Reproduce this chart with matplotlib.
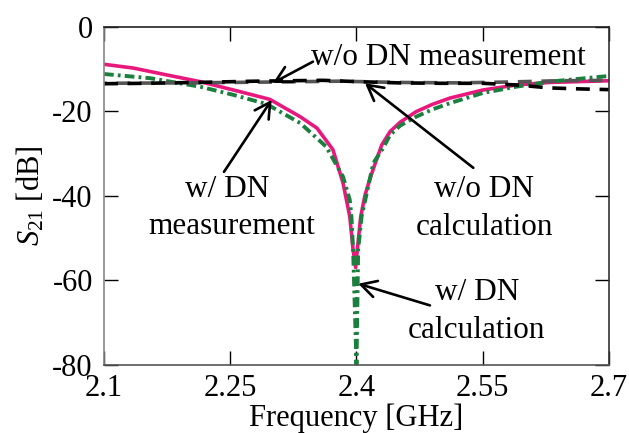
import numpy as np
import matplotlib
matplotlib.use("Agg")
import matplotlib.pyplot as plt

plt.rcParams['font.family'] = ['Liberation Serif', 'DejaVu Serif']
plt.rcParams['mathtext.fontset'] = 'custom'
plt.rcParams['mathtext.rm'] = 'Liberation Serif'
plt.rcParams['mathtext.it'] = 'Liberation Serif:italic'
plt.rcParams['axes.unicode_minus'] = False
plt.rcParams['lines.scale_dashes'] = False

# w/ DN measurement
f_meas_dn = [2.100, 2.135, 2.174, 2.214, 2.262, 2.297, 2.333, 2.353, 2.372, 2.384,
             2.392, 2.396, 2.399, 2.401, 2.405, 2.410, 2.416, 2.422, 2.430, 2.440,
             2.452, 2.471, 2.490, 2.511, 2.550, 2.590, 2.629, 2.665, 2.700]
s21_meas_dn = [-8.9, -9.8, -11.4, -13.0, -15.4, -17.2, -21.3, -24.0, -29.1, -37.0,
               -44.9, -52.8, -57.0, -52.8, -45.0, -40.0, -36.0, -32.5, -28.0, -24.8,
               -22.6, -20.1, -18.4, -16.9, -15.0, -13.8, -13.2, -13.0, -12.8]

# w/ DN calculation
f_calc_dn = [2.100, 2.155, 2.214, 2.253, 2.293, 2.333, 2.364, 2.384, 2.392, 2.394,
             2.396, 2.400, 2.402, 2.406, 2.420, 2.432, 2.440, 2.452, 2.471, 2.490,
             2.511, 2.550, 2.590, 2.630, 2.693, 2.700]
s21_calc_dn = [-11.2, -12.2, -14.2, -16.1, -18.3, -22.8, -28.4, -35.5, -41.0, -45.0,
               -52.8, -80.0, -52.8, -45.0, -32.3, -28.6, -25.6, -23.4, -21.3, -19.6,
               -18.1, -15.7, -14.2, -13.0, -11.8, -11.7]

# w/o DN measurement
f_meas = [2.10, 2.15, 2.21, 2.28, 2.36, 2.40, 2.45, 2.50, 2.55, 2.59, 2.63, 2.66, 2.70]
s21_meas = [-13.5, -13.4, -13.2, -12.9, -12.7, -13.0, -13.3, -13.4, -13.4, -13.8,
            -14.5, -14.7, -14.9]

# w/o DN calculation
f_calc = [2.10, 2.20, 2.30, 2.38, 2.45, 2.52, 2.58, 2.64, 2.70]
s21_calc = [-13.4, -13.3, -13.1, -12.9, -13.2, -13.3, -13.1, -12.8, -12.7]

xticks = [2.1, 2.25, 2.4, 2.55, 2.7]
xtick_labels = ['2.1', '2.25', '2.4', '2.55', '2.7']
yticks = [0, -20, -40, -60, -80]

fig = plt.figure(figsize=(6.29, 4.33), dpi=100)
ax = fig.add_axes([0.1653, 0.1578, 0.8029, 0.7806])

ax.plot(f_meas_dn, s21_meas_dn, color='#e8197d', lw=2.6, solid_joinstyle='round')
ax.plot(f_calc_dn, s21_calc_dn, color='#1b7f3d', lw=2.8,
        dashes=(7, 3, 2, 3))
ax.plot(f_calc, s21_calc, color='#555555', lw=2.6, linestyle=(8, (10, 7)))
ax.plot(f_meas, s21_meas, color='black', lw=2.6, linestyle=(0, (10, 7)))

ax.set_xlim(2.1, 2.7)
ax.set_ylim(-80, 0)
ax.set_xticks(xticks)
ax.set_xticklabels(xtick_labels)
ax.set_yticks(yticks)
ax.tick_params(direction='in', length=10, width=1.0, labelsize=22,
               top=True, right=True, pad=7)
ax.tick_params(axis='y', pad=8)

for side, c in [('left', '#888888'), ('bottom', '#555555'),
                ('top', '#222222'), ('right', '#333333')]:
    ax.spines[side].set_color(c)
    ax.spines[side].set_linewidth(1.2)

ax.set_xlabel('Frequency [GHz]', fontsize=22, labelpad=0)
ax.set_ylabel(r'$S_{21}$ [dB]', fontsize=22, labelpad=4)

# labels
txt = dict(fontsize=22.5, ha='center', va='baseline')
ax.text(2.509, -9.06, 'w/o DN measurement', **txt)
ax.text(2.552, -40.27, 'w/o DN', **txt)
ax.text(2.552, -49.26, 'calculation', **txt)
ax.text(2.543, -64.63, 'w/ DN', **txt)
ax.text(2.543, -73.61, 'calculation', **txt)
ax.text(2.246, -40.27, 'w/ DN', **txt)
ax.text(2.252, -49.02, 'measurement', **txt)

arrow = dict(arrowstyle='->,head_length=0.55,head_width=0.3', color='black',
             lw=1.9, shrinkA=0, shrinkB=0, mutation_scale=20)
ax.annotate('', xy=(2.3008, -13.31), xytext=(2.3483, -8.28), arrowprops=arrow)
ax.annotate('', xy=(2.4101, -13.39), xytext=(2.5388, -33.41), arrowprops=arrow)
ax.annotate('', xy=(2.2992, -17.33), xytext=(2.2426, -34.36), arrowprops=arrow)
ax.annotate('', xy=(2.4021, -60.84), xytext=(2.4873, -65.97), arrowprops=arrow)

fig.savefig('out.png', dpi=100)
